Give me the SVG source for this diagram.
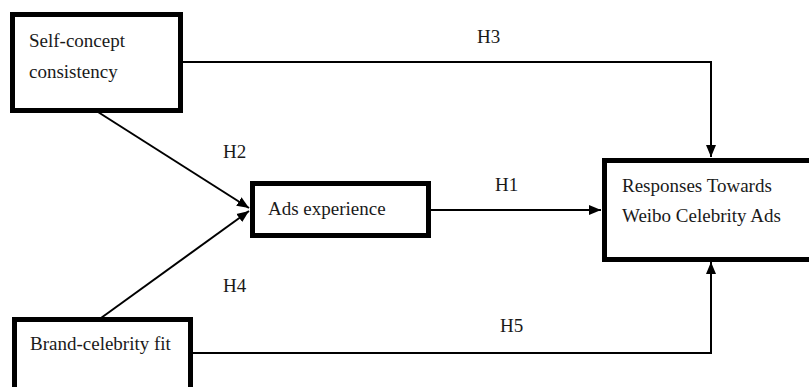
<svg xmlns="http://www.w3.org/2000/svg" width="809" height="387" viewBox="0 0 809 387">
<style>
.box{fill:#fff;stroke:#000;stroke-width:5}
.t{font-family:"Liberation Serif","Times New Roman",serif;font-size:19px;fill:#1a1a1a}
.c{fill:none;stroke:#000;stroke-width:2}
</style>
<defs>
<marker id="ah" markerUnits="userSpaceOnUse" markerWidth="12" markerHeight="12" viewBox="0 0 12 12" refX="12" refY="6" orient="auto">
<path d="M0,1 L12,6 L0,11 Z" fill="#000"/>
</marker>
</defs>
<rect width="809" height="387" fill="#fff"/>
<g id="connectors">
<polyline class="c" points="183,62 711,62 711,157" marker-end="url(#ah)"/>
<polyline class="c" points="193,353 711,353 711,262" marker-end="url(#ah)"/>
<line class="c" x1="430" y1="210" x2="601" y2="210" marker-end="url(#ah)"/>
<line class="c" x1="98" y1="112" x2="249" y2="208" marker-end="url(#ah)"/>
<line class="c" x1="101" y1="318" x2="249" y2="211" marker-end="url(#ah)"/>
<text class="t" x="477" y="43">H3</text>
<text class="t" x="223" y="158">H2</text>
<text class="t" x="495" y="191">H1</text>
<text class="t" x="223" y="292">H4</text>
<text class="t" x="500" y="332">H5</text>
</g>
<g id="self-concept">
<rect class="box" x="12.5" y="14.5" width="168" height="96"/>
<text class="t" x="29" y="47">Self-concept</text>
<text class="t" x="29" y="78">consistency</text>
</g>
<g id="brand-fit">
<rect class="box" x="14.5" y="319.5" width="176" height="100"/>
<text class="t" x="30" y="350">Brand-celebrity fit</text>
</g>
<g id="ads-experience">
<rect class="box" x="252.5" y="183.5" width="176" height="52"/>
<text class="t" x="268" y="215">Ads experience</text>
</g>
<g id="responses">
<rect class="box" x="604.5" y="160.5" width="220" height="99"/>
<text class="t" x="622" y="192">Responses Towards</text>
<text class="t" x="622" y="222">Weibo Celebrity Ads</text>
</g>
</svg>
